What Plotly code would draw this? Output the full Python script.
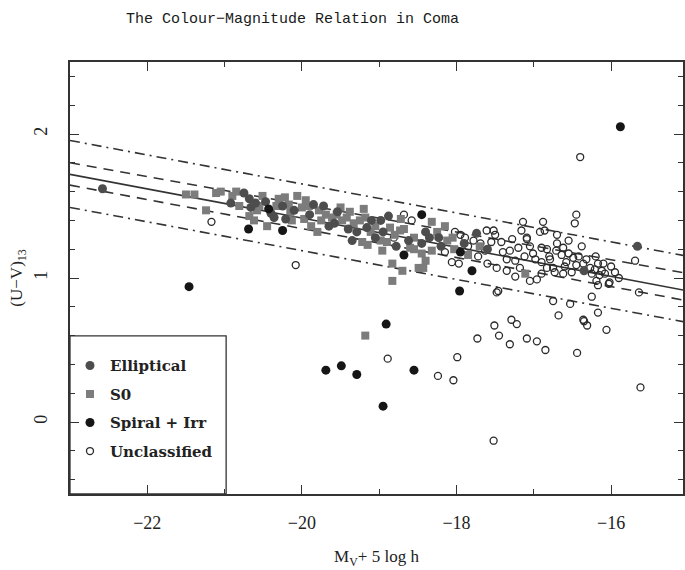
import plotly.graph_objects as go

# ---------------- data ----------------
ell_x = [-22.58, -20.68, -20.66, -20.47, -20.36, -20.25, -20.21, -19.85, -19.54, -19.29,
         -19.16, -19.05, -18.98, -18.88, -18.40, -18.45, -18.23, -17.74, -15.66, -20.75,
         -19.65, -18.62, -19.35,
         -20.60, -20.40, -20.10, -19.90, -19.72, -19.40, -19.10, -18.95, -18.78, -18.35,
         -18.20, -17.90, -17.60, -20.92, -19.58, -16.35]
ell_y = [1.62, 1.55, 1.49, 1.53, 1.42, 1.50, 1.41, 1.51, 1.46, 1.32,
         1.35, 1.28, 1.40, 1.43, 1.32, 1.24, 1.28, 1.31, 1.22, 1.59,
         1.36, 1.26, 1.26,
         1.52, 1.45, 1.47, 1.44, 1.50, 1.34, 1.40, 1.32, 1.22, 1.28,
         1.22, 1.24, 1.20, 1.52, 1.38, 1.05]

s0_x = [-21.50, -21.39, -21.11, -21.05, -20.90, -21.24, -20.68, -20.51, -20.45, -20.30,
        -20.17, -20.15, -20.13, -20.00, -19.97, -19.91, -19.78, -19.69, -19.61, -19.48,
        -19.42, -19.80, -19.33, -19.20, -19.18, -19.22, -19.11, -18.96, -18.86, -18.90,
        -18.73, -18.83, -18.83, -18.55, -18.60, -18.49, -18.32, -18.15, -18.45, -18.43,
        -18.32, -18.12, -19.18, -17.11, -20.81, -20.58, -20.06, -19.50, -18.72, -18.03,
        -20.85, -20.55, -20.33, -20.22, -19.95, -19.75, -19.55, -19.38, -19.25, -19.05,
        -18.98, -18.80, -18.68, -18.55, -18.40, -18.25, -18.05, -17.85, -17.70, -20.62,
        -19.88, -19.15, -18.70]
s0_y = [1.58, 1.58, 1.59, 1.60, 1.57, 1.47, 1.43, 1.57, 1.36, 1.55,
        1.51, 1.46, 1.40, 1.49, 1.41, 1.50, 1.47, 1.44, 1.42, 1.40,
        1.42, 1.32, 1.38, 1.48, 1.42, 1.25, 1.32, 1.19, 1.35, 1.25,
        1.33, 1.10, 0.98, 1.28, 1.21, 1.07, 1.39, 1.36, 1.17, 1.07,
        1.19, 1.26, 0.60, 1.03, 1.50, 1.47, 1.57, 1.49, 1.41, 1.20,
        1.60, 1.50, 1.50, 1.56, 1.54, 1.40, 1.44, 1.46, 1.40, 1.36,
        1.26, 1.30, 1.34, 1.20, 1.12, 1.32, 1.28, 1.16, 1.22, 1.40,
        1.36, 1.23, 1.05]

sp_x = [-21.46, -20.69, -20.25, -20.43, -18.68, -18.45, -17.95, -17.80, -17.96, -18.91,
        -18.55, -18.95, -19.69, -19.49, -19.29, -15.88]
sp_y = [0.94, 1.34, 1.33, 1.48, 1.16, 1.44, 1.18, 1.05, 0.91, 0.68,
        0.36, 0.11, 0.36, 0.39, 0.33, 2.05]

un_x = [-21.17, -20.08, -18.81, -18.68, -18.58, -18.02, -18.06, -17.97, -17.78, -17.89,
        -17.69, -17.61, -17.52, -17.63, -17.48, -17.46, -17.42, -17.31, -17.35, -17.24,
        -17.16, -17.14, -17.09, -17.18, -17.01, -16.96, -16.88, -16.86, -16.90, -16.90,
        -16.83, -17.05, -17.24, -16.92, -16.45, -16.47, -16.83, -16.71, -16.64, -16.79,
        -16.58, -16.49, -16.45, -16.36, -16.27, -16.21, -16.17, -16.10, -16.15, -16.19,
        -16.08, -15.95, -16.02, -16.73, -16.62, -16.51, -16.75, -15.69, -15.64, -16.25,
        -16.17, -16.75, -16.53, -16.36, -16.31, -16.06, -16.40, -17.09, -17.48, -17.51,
        -17.45, -17.29, -17.22, -17.31, -17.73, -17.99, -18.24, -18.04, -17.09, -16.96,
        -16.85, -17.52, -16.68, -16.44, -16.35, -16.17, -16.03, -15.62, -18.89,
        -17.85, -17.72, -17.55, -17.40, -17.28, -17.20, -17.05, -16.98, -16.80, -16.70,
        -16.62, -16.55, -16.42, -16.32, -16.25, -16.12, -16.00, -15.90, -16.60, -16.90,
        -17.35, -17.60, -18.15, -17.95, -17.50, -16.70, -16.55, -16.38, -16.20, -17.12]
un_y = [1.39, 1.09, 1.28, 1.44, 1.40, 1.32, 1.11, 1.10, 1.26, 1.28,
        1.24, 1.33, 1.33, 1.19, 1.07, 0.91, 1.25, 1.19, 1.13, 1.12,
        1.33, 1.39, 1.28, 1.07, 1.17, 0.99, 1.39, 1.33, 1.21, 1.11,
        1.07, 0.98, 1.01, 1.32, 1.44, 1.38, 1.20, 1.19, 1.16, 1.13,
        1.11, 1.14, 1.09, 1.10, 1.07, 1.06, 1.10, 1.10, 1.02, 0.98,
        1.03, 1.04, 0.97, 1.04, 1.03, 1.04, 1.07, 1.12, 0.90, 0.87,
        0.76, 0.84, 0.82, 0.71, 0.67, 0.64, 1.84, 1.27, 0.90, 0.67,
        0.60, 0.71, 0.68, 0.54, 0.58, 0.45, 0.32, 0.29, 0.58, 0.56,
        0.50, -0.13, 0.74, 0.48, 0.70, 0.95, 0.96, 0.24, 0.44,
        1.22, 1.15, 1.25, 1.18, 1.27, 1.21, 1.22, 1.13, 1.15, 1.24,
        1.21, 1.17, 1.15, 1.13, 1.03, 1.05, 1.08, 1.00, 1.08, 1.03,
        1.05, 1.10, 1.18, 1.30, 1.30, 1.30, 1.26, 1.22, 1.15, 1.15]

# colour-magnitude relation and scatter envelopes (values at the two x ends)
line_x = [-23.0, -15.0]
fit_y = [1.72, 0.91]
sig1_hi_y = [1.80, 1.03]
sig1_lo_y = [1.645, 0.84]
sig3_hi_y = [1.955, 1.15]
sig3_lo_y = [1.49, 0.69]

x_ticks = [-22, -20, -18, -16]
x_tick_text = ["\u221222", "\u221220", "\u221218", "\u221216"]
y_ticks = [0, 1, 2]
y_tick_text = ["0", "1", "2"]

# ---------------- figure ----------------
fig = go.Figure()
LC = "#333333"
for yy, dash in [(sig3_hi_y, "10px,5px,2px,5px"), (sig3_lo_y, "10px,5px,2px,5px"),
                 (sig1_hi_y, "10px,7px"), (sig1_lo_y, "10px,7px"), (fit_y, "solid")]:
    fig.add_trace(go.Scatter(x=line_x, y=yy, mode="lines", showlegend=False,
                             line=dict(color=LC, width=1.6, dash=dash), hoverinfo="skip"))

fig.add_trace(go.Scatter(x=un_x, y=un_y, mode="markers", name="Unclassified", legendrank=4,
                         legendgroup="u",
                         marker=dict(symbol="circle-open", size=7, color="#2a2a2a",
                                     line=dict(width=1.3, color="#2a2a2a"))))
fig.add_trace(go.Scatter(x=s0_x, y=s0_y, mode="markers", name="S0", legendrank=2,
                         legendgroup="s",
                         marker=dict(symbol="square", size=8, color="#7c7c7c")))
fig.add_trace(go.Scatter(x=ell_x, y=ell_y, mode="markers", name="Elliptical", legendrank=1,
                         legendgroup="e",
                         marker=dict(symbol="circle", size=9, color="#4d4d4d")))
fig.add_trace(go.Scatter(x=sp_x, y=sp_y, mode="markers", name="Spiral + Irr", legendrank=3,
                         legendgroup="p",
                         marker=dict(symbol="circle", size=9, color="#161616")))

axis_common = dict(showline=True, linecolor="#333", linewidth=1.6, mirror="ticks",
                   ticks="inside", tickcolor="#333", tickwidth=1.4, showgrid=False,
                   zeroline=False)
fig.update_xaxes(range=[-23, -15.07], tickvals=x_ticks, ticktext=x_tick_text, ticklen=9,
                 ticklabelstandoff=12,
                 minor=dict(dtick=1, tick0=-23, ticks="inside", ticklen=5, tickcolor="#333",
                            tickwidth=1.2),
                 tickfont=dict(family="Liberation Serif", size=18, color="#222"),
                 title=dict(text="M<sub>V</sub>+ 5 log h", standoff=18,
                            font=dict(family="Liberation Serif", size=17, color="#222")),
                 **axis_common)
fig.update_yaxes(range=[-0.5, 2.5], tickvals=y_ticks, ticktext=y_tick_text, ticklen=9,
                 tickangle=-90, ticklabelstandoff=14,
                 minor=dict(dtick=0.2, tick0=0, ticks="inside", ticklen=5, tickcolor="#333",
                            tickwidth=1.2),
                 tickfont=dict(family="Liberation Serif", size=18, color="#222"),
                 title=dict(text="(U\u2212V)<sub>13</sub>", standoff=4,
                            font=dict(family="Liberation Serif", size=17, color="#222")),
                 **axis_common)

fig.add_shape(type="rect", xref="paper", yref="paper", x0=0, x1=0.2547, y0=0, y1=0.366,
              line=dict(color="#333", width=1.3), fillcolor="rgba(0,0,0,0)")

fig.update_layout(
    width=685, height=570,
    margin=dict(l=70, r=0, t=62, b=76),
    paper_bgcolor="white", plot_bgcolor="white",
    title=dict(text="The Colour\u2212Magnitude Relation in Coma", x=0.427, xanchor="center",
               y=0.968, yref="container", yanchor="middle",
               font=dict(family="Liberation Mono", size=15, color="#1a1a1a")),
    legend=dict(x=0.0, y=0.335, xanchor="left", yanchor="top", bgcolor="rgba(0,0,0,0)",
                font=dict(family="DejaVu Serif", size=15, color="#222", weight="bold"),
                itemwidth=30, tracegroupgap=6, traceorder="grouped"),
    showlegend=True,
)

fig.write_html("out.html")
